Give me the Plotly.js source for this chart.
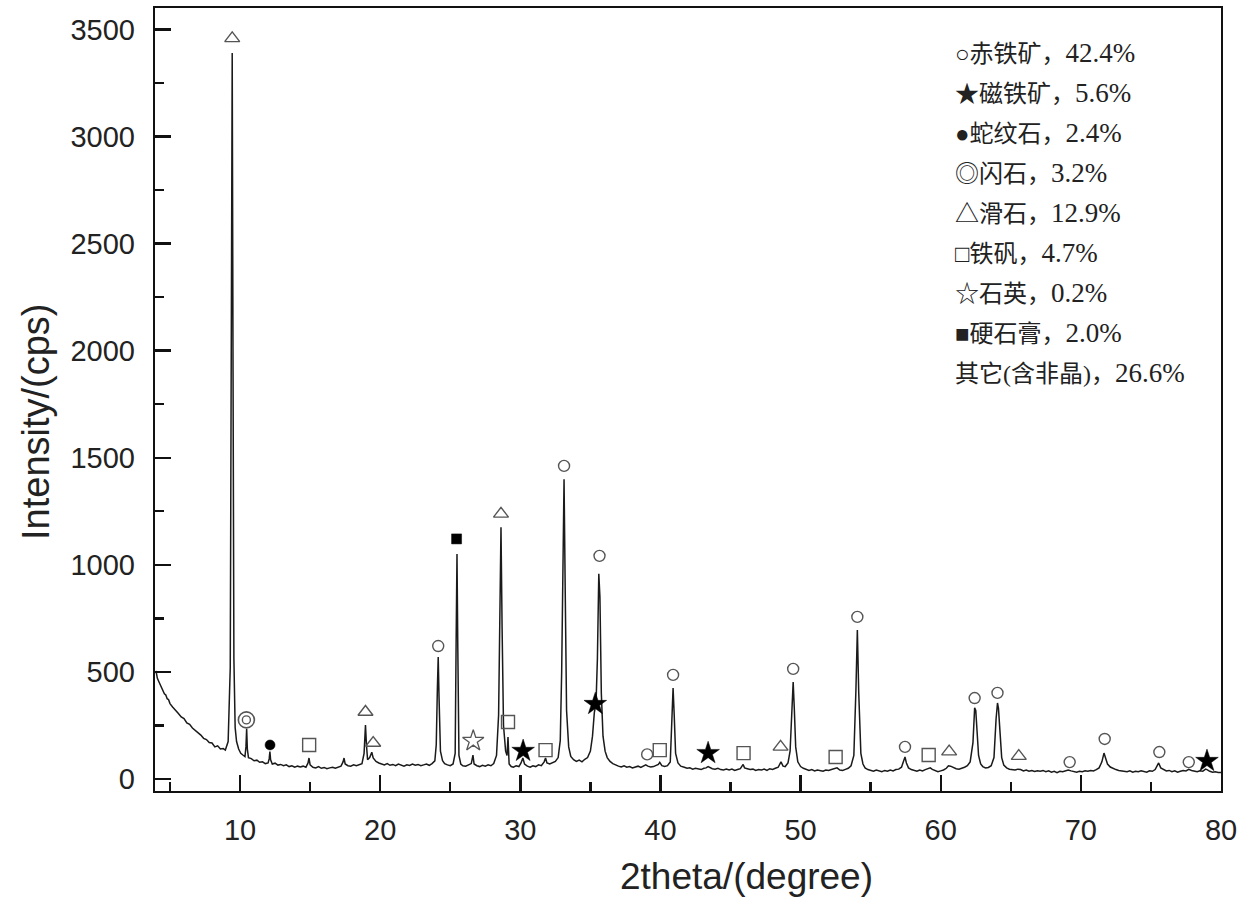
<!DOCTYPE html>
<html>
<head>
<meta charset="utf-8">
<script src="https://cdn.plot.ly/plotly-3.0.1.min.js"></script>
<style>html,body{margin:0;padding:0;background:#fff;}#chart{width:1250px;height:901px;}</style>
</head>
<body>
<div id="chart"></div>
<script>
// ---- XRD pattern (2theta in degree, intensity in cps) ----
const twoTheta = [
4.0,4.1,4.2,4.3,4.4,4.5,4.6,4.7,4.8,4.9,5.0,5.2,5.4,5.6,5.8,6.0,6.2,6.4,6.6,6.8,7.0,7.2,7.4,7.6,7.8,8.0,8.2,8.4,8.6,8.8,8.95,
9.15,9.3,9.38,9.44,9.5,9.56,9.65,9.75,9.9,10.05,10.2,10.35,10.42,10.47,10.52,10.6,10.8,11.0,11.2,11.4,11.6,11.8,12.0,12.08,12.13,12.18,
12.3,12.5,12.7,12.9,13.1,13.3,13.5,13.7,13.9,14.1,14.3,14.5,14.7,14.85,14.92,15.0,15.2,15.4,15.6,15.8,16.0,16.2,16.4,16.6,16.8,17.0,
17.2,17.35,17.42,17.5,17.7,17.9,18.1,18.3,18.5,18.7,18.85,18.95,19.02,19.1,19.25,19.4,19.5,19.7,19.9,20.1,20.3,20.5,20.7,20.9,21.1,
21.3,21.5,21.7,21.9,22.1,22.3,22.5,22.7,22.9,23.1,23.3,23.5,23.7,23.9,24.0,24.08,24.14,24.2,24.3,24.45,24.6,24.8,25.0,25.2,25.35,
25.42,25.48,25.54,25.62,25.75,25.9,26.1,26.3,26.5,26.62,26.7,26.9,27.1,27.3,27.5,27.7,27.9,28.1,28.3,28.45,28.55,28.62,28.7,28.8,
28.95,29.05,29.12,29.2,29.35,29.5,29.7,29.9,30.05,30.18,30.3,30.5,30.7,30.9,31.1,31.3,31.5,31.7,31.8,31.9,32.1,32.3,32.5,32.7,32.85,
32.95,33.05,33.12,33.2,33.3,33.45,33.6,33.8,34.0,34.2,34.4,34.6,34.8,35.0,35.15,35.28,35.4,35.5,35.6,35.68,35.78,35.9,36.05,36.2,
36.4,36.6,36.8,37.0,37.2,37.4,37.6,37.8,38.0,38.2,38.4,38.6,38.8,38.95,39.1,39.3,39.5,39.7,39.85,39.95,40.1,40.3,40.5,40.7,40.82,
40.9,40.98,41.08,41.25,41.45,41.7,41.9,42.1,42.3,42.5,42.7,42.9,43.1,43.25,43.4,43.55,43.7,43.9,44.1,44.3,44.5,44.7,44.9,45.1,45.3,
45.5,45.7,45.9,46.0,46.2,46.4,46.6,46.8,47.0,47.2,47.4,47.6,47.8,48.0,48.2,48.4,48.6,48.75,48.9,49.1,49.25,49.38,49.47,49.55,49.65,
49.8,50.0,50.2,50.4,50.6,50.8,51.0,51.2,51.4,51.6,51.8,52.0,52.2,52.4,52.6,52.8,53.0,53.2,53.4,53.6,53.8,53.95,54.05,54.15,54.3,
54.45,54.6,54.8,55.0,55.2,55.4,55.6,55.8,56.0,56.2,56.4,56.6,56.8,57.0,57.2,57.35,57.45,57.55,57.7,57.9,58.1,58.3,58.5,58.7,58.9,
59.1,59.25,59.4,59.6,59.8,60.0,60.2,60.4,60.55,60.7,60.9,61.1,61.3,61.5,61.7,61.9,62.1,62.3,62.42,62.5,62.6,62.7,62.85,63.0,63.2,
63.4,63.6,63.8,63.95,64.05,64.12,64.22,64.35,64.5,64.7,64.9,65.1,65.3,65.5,65.7,65.9,66.1,66.3,66.5,66.7,66.9,67.1,67.3,67.5,67.7,
67.9,68.1,68.3,68.5,68.7,68.9,69.1,69.3,69.5,69.7,69.9,70.1,70.3,70.5,70.7,70.9,71.1,71.3,71.5,71.65,71.75,71.9,72.1,72.3,72.5,72.7,
72.9,73.1,73.3,73.5,73.7,73.9,74.1,74.3,74.5,74.7,74.9,75.1,75.3,75.45,75.55,75.7,75.9,76.1,76.3,76.5,76.7,76.9,77.1,77.3,77.5,77.7,
77.9,78.1,78.3,78.5,78.7,78.9,79.0,79.2,79.4,79.6,79.8,80.0
];
const intensity = [
505,470,455,440,425,418,398,392,375,370,352,335,318,306,290,282,262,255,238,228,215,205,190,184,170,168,150,155,140,142,135,
175,520,1900,3390,1900,560,240,175,140,120,112,105,150,235,140,100,95,85,88,78,80,72,75,95,128,90,
70,74,65,68,62,66,58,62,55,60,56,60,55,75,98,66,55,52,58,50,54,48,52,55,50,56,
60,80,98,70,62,60,66,62,68,72,120,252,160,90,100,125,98,82,75,70,66,72,64,68,62,
70,65,60,66,63,70,64,68,62,66,70,64,72,85,160,420,570,380,130,85,72,66,62,70,120,
650,1050,600,110,70,62,60,66,72,112,70,62,58,64,60,66,62,72,110,300,900,1175,700,250,
130,110,196,70,58,55,62,58,75,98,70,60,55,62,58,66,62,80,98,75,70,76,82,100,180,
500,1150,1400,900,320,150,105,90,82,88,80,92,100,130,200,310,350,560,958,850,400,200,130,100,
82,72,65,60,56,62,55,58,52,56,60,54,60,66,60,56,58,62,68,78,62,58,62,80,250,
425,300,120,75,60,55,50,52,46,50,48,44,50,52,58,52,48,46,50,44,42,46,42,46,40,
44,48,68,52,48,44,46,40,44,42,46,40,48,45,50,55,80,60,58,75,130,300,453,330,150,
80,58,50,44,40,44,38,42,40,36,42,40,44,48,52,42,40,45,50,62,110,420,696,400,120,
70,52,44,40,36,42,38,34,40,36,42,38,44,46,55,80,103,75,52,44,40,36,42,38,44,
48,52,45,38,34,38,42,50,62,60,52,48,46,50,55,62,80,170,332,320,210,110,70,58,52,
54,62,100,280,355,330,200,100,65,52,46,44,42,46,44,38,42,36,40,35,38,36,40,34,38,
32,36,30,36,34,38,42,38,34,32,36,34,38,36,40,38,44,52,80,121,100,70,56,48,44,40,
38,36,34,38,32,36,34,38,36,32,38,36,44,60,75,52,44,38,40,34,38,32,36,40,38,45,
40,36,34,38,36,46,44,36,32,34,30,30
];

// ---- phase markers (peak labels) ----
const hematiteX = [24.14, 33.12, 35.65, 39.05, 40.9, 49.47, 54.05, 57.45, 62.42, 64.05, 69.2, 71.7, 75.6, 77.7];
const hematiteY = [621, 1462, 1042, 115, 486, 514, 757, 150, 378, 402, 79, 187, 126, 79];
const magnetiteX = [30.2, 35.35, 43.4, 79.0];
const magnetiteY = [131, 350, 121, 84];
const serpentineX = [12.14];
const serpentineY = [159];
const amphiboleX = [10.45];
const amphiboleY = [276];
const talcX = [9.44, 18.95, 19.5, 28.62, 48.57, 60.6, 65.57];
const talcY = [3458, 313, 168, 1238, 150, 128, 107];
const alumX = [14.93, 29.12, 31.8, 39.95, 45.93, 52.5, 59.14];
const alumY = [159, 266, 135, 135, 121, 103, 112];
const quartzX = [26.64];
const quartzY = [178];
const anhydriteX = [25.45];
const anhydriteY = [1121];

// ---- legend text ----
const phaseSymbols = ['○', '★', '●', '◎', '△', '□', '☆', '■', ''];
const phaseNames = ['赤铁矿', '磁铁矿', '蛇纹石', '闪石', '滑石', '铁矾', '石英', '硬石膏', '其它(含非晶)'];
const phasePct = ['42.4%', '5.6%', '2.4%', '3.2%', '12.9%', '4.7%', '0.2%', '2.0%', '26.6%'];

const xTickVals = [10, 20, 30, 40, 50, 60, 70, 80];
const yTickVals = [0, 500, 1000, 1500, 2000, 2500, 3000, 3500];

const gray = '#555';
function mk(x, y, symbol, size, color, lw) {
  return {x: x, y: y, type: 'scatter', mode: 'markers', hoverinfo: 'skip', showlegend: false,
    marker: {symbol: symbol, size: size, color: color, line: {color: color, width: lw}}};
}

const traces = [
  {x: twoTheta, y: intensity, type: 'scatter', mode: 'lines', showlegend: false,
   line: {color: '#1a1a1a', width: 1.5}},
  mk(hematiteX, hematiteY, 'circle-open', 11, gray, 1.4),
  mk(magnetiteX, magnetiteY, 'star', 17, '#000', 0.5),
  mk(serpentineX, serpentineY, 'circle', 10, '#000', 0.5),
  mk(amphiboleX, amphiboleY, 'circle-open', 16, gray, 1.6),
  mk(amphiboleX, amphiboleY, 'circle-open', 8, gray, 1.4),
  mk(talcX, talcY, 'triangle-up-open', 13, gray, 1.4),
  mk(alumX, alumY, 'square-open', 13, gray, 1.4),
  mk(quartzX, quartzY, 'star-open', 16, gray, 1.3),
  mk(anhydriteX, anhydriteY, 'square', 10, '#000', 0.5)
];

const plotLeft = 155, plotRight = 1221, plotTop = 8, plotBottom = 791;
const pw = plotRight - plotLeft, ph = plotBottom - plotTop;
const legendTop = 53, legendStep = 40;
const serif = '"Liberation Serif", "Noto Sans CJK SC", serif';
const sans = '"Liberation Sans", Arial, sans-serif';

const annotations = phaseNames.map((n, i) => ({
  xref: 'paper', yref: 'paper', x: (953 - plotLeft) / pw, xanchor: 'left', yanchor: 'middle',
  y: (plotBottom - (legendTop + i * legendStep)) / ph,
  text: phaseSymbols[i] + n + '，<span style="font-size:27px">' + phasePct[i] + '</span>', showarrow: false,
  font: {family: serif, size: 24, color: '#222'}
}));
// axis titles (placed as in the reference)
annotations.push({
  xref: 'paper', yref: 'paper', x: (746 - plotLeft) / pw, y: (plotBottom - 876) / ph,
  xanchor: 'center', yanchor: 'middle', showarrow: false, text: '2theta/(degree)',
  font: {family: sans, size: 37, color: '#222'}
});
annotations.push({
  xref: 'paper', yref: 'paper', x: (36 - plotLeft) / pw, y: (plotBottom - 422) / ph,
  xanchor: 'center', yanchor: 'middle', showarrow: false, textangle: -90, text: 'Intensity/(cps)',
  font: {family: sans, size: 38, color: '#222'}
});

const axisCommon = {
  showline: true, linecolor: '#111', linewidth: 2.2, mirror: true,
  ticks: 'inside', ticklen: 16, tickwidth: 2.4, tickcolor: '#111',
  showgrid: false, zeroline: false,
  tickfont: {family: sans, size: 29, color: '#222'},
  ticklabelstandoff: 12
};

const layout = {
  width: 1250, height: 901,
  margin: {l: 155, r: 29, t: 8, b: 110},
  paper_bgcolor: '#fff', plot_bgcolor: '#fff',
  xaxis: Object.assign({}, axisCommon, {
    range: [3.93, 80], tickvals: xTickVals, ticktext: xTickVals.map(String),
    minor: {ticks: 'inside', dtick: 5, tick0: 0, ticklen: 9, tickwidth: 2.4, tickcolor: '#111', showgrid: false}
  }),
  yaxis: Object.assign({}, axisCommon, {
    range: [-56, 3600], tickvals: yTickVals, ticktext: yTickVals.map(String),
    minor: {ticks: 'inside', dtick: 250, tick0: 0, ticklen: 9, tickwidth: 2.4, tickcolor: '#111', showgrid: false}
  }),
  annotations: annotations
};

Plotly.newPlot('chart', traces, layout, {displayModeBar: false, staticPlot: true});
</script>
</body>
</html>
